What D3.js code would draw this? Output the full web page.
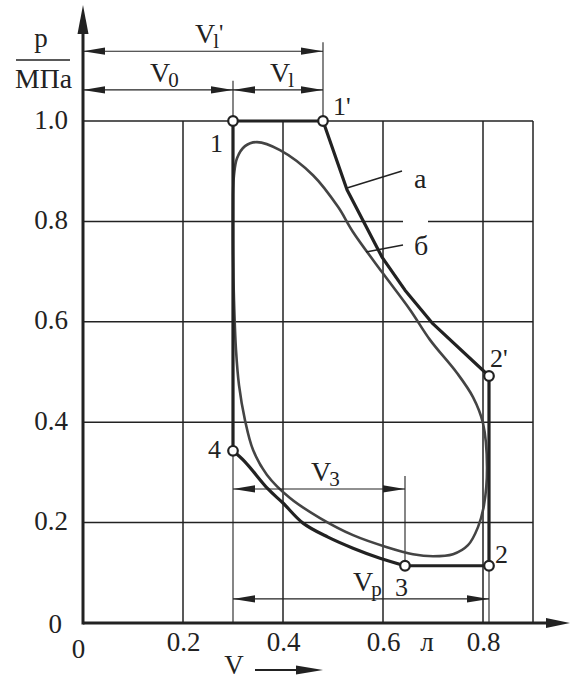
<!DOCTYPE html>
<html>
<head>
<meta charset="utf-8">
<script src="https://cdn.jsdelivr.net/npm/d3@7"></script>
<style>
  body { margin: 0; background: #fff; }
  svg { display: block; }
  svg text { font-family: "Liberation Serif", Tinos, "Times New Roman", "DejaVu Serif", "Noto Serif", serif !important; fill: #222; }
</style>
</head>
<body>
<script>
// p-V diagram: curve а (ideal) and б (real)
const xTicks = [0, 0.2, 0.4, 0.6, 0.8];
const yTicks = [0, 0.2, 0.4, 0.6, 0.8, 1.0];
const xGrid = [0.2, 0.4, 0.6, 0.8, 0.9];
const yGrid = [0.2, 0.4, 0.6, 0.8, 1.0];

// curve а, upper part 1 -> 1' -> 2' -> 2 -> 3
const aUpperV = [0.30, 0.48, 0.528, 0.598, 0.644, 0.698, 0.812, 0.812, 0.644];
const aUpperP = [1.00, 1.00, 0.863, 0.729, 0.663, 0.598, 0.492, 0.114, 0.114];
// curve а, expansion 3 -> 4 -> 1
const aLowerV = [0.644, 0.594, 0.54, 0.49, 0.44, 0.40, 0.37, 0.324, 0.30];
const aLowerP = [0.114, 0.129, 0.149, 0.171, 0.199, 0.239, 0.267, 0.321, 0.343];

// curve б
const bV = [0.30, 0.302, 0.308, 0.324, 0.348, 0.394, 0.46, 0.51, 0.54, 0.598, 0.654, 0.694, 0.748, 0.78, 0.80, 0.808, 0.802, 0.79, 0.77, 0.74, 0.70, 0.66, 0.608, 0.54, 0.474, 0.414, 0.368, 0.34, 0.324, 0.312, 0.306, 0.302, 0.30, 0.30];
const bP = [0.853, 0.892, 0.926, 0.950, 0.958, 0.942, 0.892, 0.829, 0.779, 0.699, 0.624, 0.564, 0.498, 0.45, 0.398, 0.311, 0.235, 0.191, 0.155, 0.137, 0.133, 0.137, 0.151, 0.175, 0.209, 0.249, 0.295, 0.345, 0.404, 0.474, 0.544, 0.643, 0.743, 0.853];

// state points
const ptNames = ["1", "1'", "2'", "2", "3", "4"];
const ptV = [0.30, 0.48, 0.812, 0.812, 0.644, 0.30];
const ptP = [1.00, 1.00, 0.492, 0.114, 0.114, 0.343];

// dimension lines: [main, sub, prime, from V, to V, level p]
const dims = [
  ["V", "l", true, 0, 0.48, 1.139],
  ["V", "0", false, 0, 0.30, 1.062],
  ["V", "l", false, 0.30, 0.48, 1.062],
  ["V", "3", false, 0.30, 0.644, 0.267],
  ["V", "p", false, 0.30, 0.812, 0.048]
];

const W = 570, H = 679;
const ink = "#222";
const serif = "'Liberation Serif', Tinos, 'Times New Roman', 'DejaVu Serif', serif";
const svg = d3.select("body").append("svg").attr("width", W).attr("height", H)
  .attr("font-family", serif);

const x = d3.scaleLinear().domain([0, 0.9]).range([83, 533]);
const y = d3.scaleLinear().domain([0, 1]).range([623, 121]);

// grid
svg.append("g").selectAll("line").data(xGrid).join("line")
  .attr("x1", d => x(d)).attr("x2", d => x(d))
  .attr("y1", y(0)).attr("y2", y(1))
  .attr("stroke", ink).attr("stroke-width", 1.5);
svg.append("g").selectAll("line").data(yGrid.filter(d => d !== 0.8)).join("line")
  .attr("x1", x(0)).attr("x2", x(0.9))
  .attr("y1", d => y(d)).attr("y2", d => y(d))
  .attr("stroke", ink).attr("stroke-width", 1.5);
// 0.8 line has a gap near the labels
[[0, 0.64], [0.69, 0.9]].forEach(s => {
  svg.append("line").attr("x1", x(s[0])).attr("x2", x(s[1]))
    .attr("y1", y(0.8)).attr("y2", y(0.8))
    .attr("stroke", ink).attr("stroke-width", 1.5);
});

// extension lines
const ext = [[0.30, 1.08, 0], [0.48, 1.157, 1.0], [0.644, 0.293, 0.114], [0.812, 0.114, 0]];
ext.forEach(e => {
  svg.append("line").attr("x1", x(e[0])).attr("x2", x(e[0]))
    .attr("y1", y(e[1])).attr("y2", y(e[2]))
    .attr("stroke", ink).attr("stroke-width", 1.1);
});

// axes
svg.append("line").attr("x1", x(0)).attr("x2", 550).attr("y1", y(0)).attr("y2", y(0))
  .attr("stroke", ink).attr("stroke-width", 3);
svg.append("line").attr("x1", x(0)).attr("x2", x(0)).attr("y1", y(0) + 1.5).attr("y2", 30)
  .attr("stroke", ink).attr("stroke-width", 3);
svg.append("path").attr("d", `M570,${y(0)} L546,${y(0) - 5} L546,${y(0) + 5} Z`).attr("fill", ink);
svg.append("path").attr("d", `M${x(0)},5 L${x(0) - 5.5},34 L${x(0) + 5.5},34 Z`).attr("fill", ink);

const fs = 27;
const yAxis = svg.append("g").attr("transform", `translate(${x(0)},0)`)
  .call(d3.axisLeft(y).tickValues(yTicks).tickSize(0).tickPadding(15)
    .tickFormat(d => d === 0 ? "0" : d3.format(".1f")(d)));
yAxis.attr("font-family", serif);
yAxis.select(".domain").remove();
yAxis.selectAll("text").attr("font-size", fs).attr("fill", ink)
  .attr("x", d => d === 0 ? -21 : -15)
  .attr("dy", d => d === 0 ? 9 : 7);

const xAxis = svg.append("g").attr("transform", `translate(0,${y(0)})`)
  .call(d3.axisBottom(x).tickValues(xTicks).tickSize(0).tickPadding(0)
    .tickFormat(d => d === 0 ? "0" : d3.format(".1f")(d)));
xAxis.attr("font-family", serif);
xAxis.select(".domain").remove();
xAxis.selectAll("text").attr("font-size", fs).attr("fill", ink).attr("dy", null)
  .attr("y", d => d === 0 ? 35 : 28)
  .attr("x", d => d === 0 ? -5 : 0);

svg.append("text").attr("x", 427).attr("y", 651).attr("text-anchor", "middle")
  .attr("font-size", fs).text("л");

// axis titles
svg.append("text").attr("x", 41).attr("y", 47).attr("text-anchor", "middle").attr("font-size", fs).text("p");
svg.append("line").attr("x1", 16).attr("x2", 70).attr("y1", 60).attr("y2", 60).attr("stroke", ink).attr("stroke-width", 1.5);
svg.append("text").attr("x", 43.5).attr("y", 88).attr("text-anchor", "middle").attr("font-size", fs)
  .attr("textLength", 57).attr("lengthAdjust", "spacingAndGlyphs").text("МПа");
svg.append("text").attr("x", 234).attr("y", 674).attr("text-anchor", "middle").attr("font-size", 27).text("V");
svg.append("line").attr("x1", 255).attr("x2", 300).attr("y1", 670).attr("y2", 670).attr("stroke", ink).attr("stroke-width", 1.8);
svg.append("path").attr("d", "M323,670 L296,665.5 L296,674.5 Z").attr("fill", ink);

// curves
const line = d3.line().x(d => x(d[0])).y(d => y(d[1]));
const curveLine = d3.line().x(d => x(d[0])).y(d => y(d[1])).curve(d3.curveCatmullRom.alpha(0.5));

svg.append("path").datum(bV.map((v, i) => [v, bP[i]]))
  .attr("d", curveLine).attr("fill", "none").attr("stroke", "#444").attr("stroke-width", 2.6);

svg.append("path").datum(aUpperV.map((v, i) => [v, aUpperP[i]]))
  .attr("d", line).attr("fill", "none").attr("stroke", ink).attr("stroke-width", 3.2)
  .attr("stroke-linejoin", "round");
svg.append("path").datum(aLowerV.map((v, i) => [v, aLowerP[i]]).concat([[0.30, 1.0]]))
  .attr("d", d => curveLine(d.slice(0, -1)) + `L${x(0.30)},${y(1.0)}`)
  .attr("fill", "none").attr("stroke", ink).attr("stroke-width", 3.2);

// leaders to curve labels
svg.append("line").attr("x1", 347).attr("y1", 188).attr("x2", 402).attr("y2", 171).attr("stroke", ink).attr("stroke-width", 1.5);
svg.append("line").attr("x1", 366).attr("y1", 252).attr("x2", 403).attr("y2", 245).attr("stroke", ink).attr("stroke-width", 1.5);
svg.append("text").attr("x", 414).attr("y", 188).attr("font-size", 28).text("а");
svg.append("text").attr("x", 414).attr("y", 255).attr("font-size", 28).text("б");

// points
svg.append("g").selectAll("circle").data(ptNames).join("circle")
  .attr("cx", (d, i) => x(ptV[i])).attr("cy", (d, i) => y(ptP[i])).attr("r", 4.8)
  .attr("fill", "#fff").attr("stroke", ink).attr("stroke-width", 2.2);

const ptOff = [[-23, 31], [10, -6], [1, -9], [6, -3], [-10, 30], [-25, 7]];
svg.append("g").selectAll("text").data(ptNames).join("text")
  .attr("x", (d, i) => x(ptV[i]) + ptOff[i][0]).attr("y", (d, i) => y(ptP[i]) + ptOff[i][1])
  .attr("font-size", 26).text(d => d);

// dimension lines with arrows
function head(xt, yy, dir) {
  svg.append("path")
    .attr("d", `M${xt},${yy} L${xt - dir * 22},${yy - 3.6} L${xt - dir * 22},${yy + 3.6} Z`)
    .attr("fill", ink);
}
dims.forEach(dm => {
  const x1 = x(dm[3]), x2 = x(dm[4]), yy = y(dm[5]);
  svg.append("line").attr("x1", x1).attr("x2", x2).attr("y1", yy).attr("y2", yy)
    .attr("stroke", ink).attr("stroke-width", 1.1);
  head(x1, yy, -1);
  head(x2, yy, 1);
  const cx = (x1 + x2) / 2;
  const t = svg.append("text").attr("x", cx - 8).attr("y", yy - 8)
    .attr("font-size", 28).attr("text-anchor", "start");
  t.append("tspan").text(dm[0]);
  t.append("tspan").attr("font-size", 21).attr("dx", -2).attr("dy", 5).text(dm[1]);
  if (dm[2]) t.append("tspan").attr("font-size", 24).attr("dy", -8).text("'");
});
</script>
</body>
</html>
